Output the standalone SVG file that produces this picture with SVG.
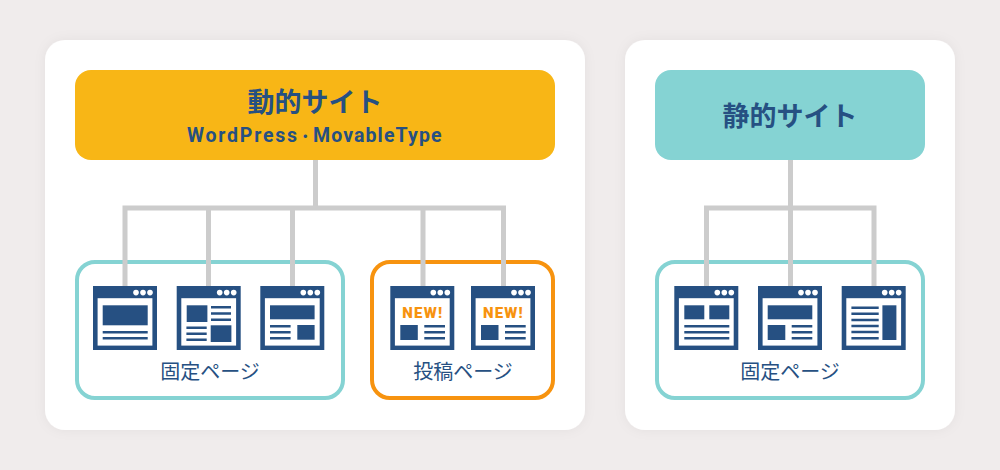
<svg xmlns="http://www.w3.org/2000/svg" width="1000" height="470" viewBox="0 0 1000 470">
<style>
.card{fill:#fff;filter:url(#sh)}
.teal{fill:#fff;stroke:#85d3d3;stroke-width:4}
.orange{fill:#fff;stroke:#f7930f;stroke-width:4}
.conn{fill:none;stroke:#cccccc;stroke-width:5}
.title{font-family:"Noto Sans CJK JP","Noto Sans",sans-serif;font-weight:700;font-size:27px;fill:#265082;text-anchor:middle}
.sub{font-family:"Roboto","Liberation Sans","Noto Sans CJK JP",sans-serif;font-weight:700;font-size:19.5px;fill:#265082}
.label{font-family:"Noto Sans CJK JP","Noto Sans",sans-serif;font-size:20px;fill:#265082;text-anchor:middle}
.new{font-family:"Roboto","Liberation Sans",sans-serif;font-weight:900;font-size:15px;fill:#f7930f;text-anchor:middle}
.d{fill:#265082}
.w{fill:#fff}
.l{stroke:#265082;stroke-width:2.4;fill:none}
</style>
<defs>
<filter id="sh" x="-10%" y="-10%" width="120%" height="120%"><feDropShadow dx="0" dy="0" stdDeviation="6" flood-color="#000" flood-opacity="0.05"/></filter>
<g id="frame">
<rect class="d" width="64" height="64"/>
<rect class="w" x="4.6" y="12.2" width="54.8" height="47.4"/>
<circle class="w" cx="43" cy="6.6" r="2.8"/><circle class="w" cx="50" cy="6.6" r="2.8"/><circle class="w" cx="57" cy="6.6" r="2.8"/>
</g>
<g id="i1"><use href="#frame"/><rect class="d" x="9.7" y="19.3" width="45" height="20"/><path class="l" d="M9.7 46.3H54.7M9.7 52.3H54.7"/></g>
<g id="i2"><use href="#frame"/><rect class="d" x="10" y="19.3" width="20.7" height="16.7"/><rect class="d" x="34" y="39.3" width="20.7" height="16.7"/><path class="l" d="M34.3 21.3H54.3M34.3 27.5H54.3M34.3 33.7H54.3M9.7 41.7H30M9.7 47.7H30M9.7 53.7H30"/></g>
<g id="i3"><use href="#frame"/><rect class="d" x="9.7" y="19.3" width="44.6" height="14"/><rect class="d" x="37" y="39" width="17.3" height="14.7"/><path class="l" d="M9.7 40.3H30.3M9.7 46.3H30.3M9.7 52.3H30.3"/></g>
<g id="i4"><use href="#frame"/><text class="new" x="32.500" y="31.500" letter-spacing="1.200">NEW!</text><rect class="d" x="10" y="39" width="17.500" height="15"/><path class="l" d="M34 40.3H54.700M34 46.3H54.700M34 52.3H54.700"/></g>
<g id="i5"><use href="#frame"/><rect class="d" x="10" y="19.3" width="20" height="14"/><rect class="d" x="35" y="19.3" width="20" height="14"/><path class="l" d="M10 40.3H55M10 46.3H55M10 52.3H55"/></g>
<g id="i6"><use href="#frame"/><rect class="d" x="9.7" y="19.3" width="44.6" height="14"/><rect class="d" x="9.7" y="39" width="17.6" height="15"/><path class="l" d="M33.7 40.3H54.3M33.7 46.3H54.3M33.7 52.3H54.3"/></g>
<g id="i7"><use href="#frame"/><rect class="d" x="40.7" y="19.3" width="14" height="34.7"/><path class="l" d="M9.7 21.7H37M9.7 27.7H37M9.7 34H37M9.7 40H37M9.7 46H37M9.7 52.3H37"/></g>
</defs>
<rect width="1000" height="470" fill="#f0ecec"/>
<g id="card-dynamic"><rect class="card" x="45" y="40" width="540" height="390" rx="20"/></g>
<g id="card-static"><rect class="card" x="625" y="40" width="330" height="390" rx="20"/></g>
<g id="group-fixed-dynamic"><rect class="teal" x="77" y="262" width="266" height="136" rx="18"/><text class="label" x="210" y="379">固定ページ</text></g>
<g id="group-post"><rect class="orange" x="372" y="262" width="181" height="136" rx="18"/><text class="label" x="463" y="379">投稿ページ</text></g>
<g id="group-fixed-static"><rect class="teal" x="657" y="262" width="266" height="136" rx="18"/><text class="label" x="790" y="379">固定ページ</text></g>
<g id="connectors">
<path class="conn" d="M315.500 160V208M125 286V208H503.500V286M208.500 208V286M292.500 208V286M423 208V286"/>
<path class="conn" d="M790.500 160V286M706.500 286V208H874V286"/>
</g>
<g id="node-dynamic"><rect x="75" y="70" width="480" height="90" rx="16" fill="#f8b616"/><text class="title" x="315" y="112">動的サイト</text><text class="sub" y="142"><tspan x="187" textLength="110" lengthAdjust="spacing">WordPress</tspan><tspan x="298.500" font-size="13.500px" dy="-1">・</tspan><tspan x="313" dy="1" textLength="128.500" lengthAdjust="spacing">MovableType</tspan></text></g>
<g id="node-static"><rect x="655" y="70" width="270" height="90" rx="16" fill="#85d3d3"/><text class="title" x="790" y="126">静的サイト</text></g>
<g id="page-1"><use href="#i1" x="93" y="286"/></g>
<g id="page-2"><use href="#i2" x="176.700" y="286"/></g>
<g id="page-3"><use href="#i3" x="260.300" y="286"/></g>
<g id="post-1"><use href="#i4" x="390.300" y="286"/></g>
<g id="post-2"><use href="#i4" x="471" y="286"/></g>
<g id="page-4"><use href="#i5" x="674.300" y="286"/></g>
<g id="page-5"><use href="#i6" x="758" y="286"/></g>
<g id="page-6"><use href="#i7" x="841.700" y="286"/></g>
</svg>
